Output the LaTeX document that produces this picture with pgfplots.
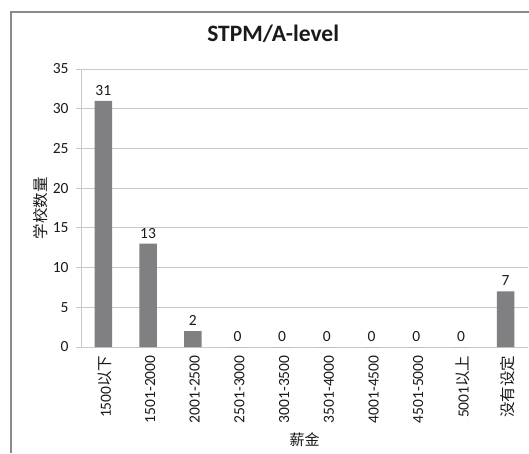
\documentclass[border=0pt]{standalone}
\usepackage{fontspec}
\setmainfont{Carlito}
\newfontfamily\cjk{Noto Sans CJK SC}[FakeStretch=1]
\usepackage{pgfplots}
\pgfplotsset{compat=1.18}
\definecolor{barc}{HTML}{808082}
\definecolor{gridc}{HTML}{C8C8C8}
\definecolor{framec}{HTML}{8A8A8A}
\definecolor{txt}{HTML}{1A1A1A}
\begin{document}
\begin{tikzpicture}[x=1pt,y=1pt]
\path[use as bounding box] (0,0) rectangle (529,453);
\draw[color=framec, line width=2.5pt] (11,0) -- (11,441) -- (530,441);
\begin{axis}[
  at={(81pt,106pt)}, anchor=south west,
  scale only axis, width=447pt, height=278pt,
  ybar, bar width=17.5pt,
  xmin=-0.5, xmax=9.5, ymin=0, ymax=35,
  xtick=data,
  xticklabels={1500{\cjk 以下},1501-2000,2001-2500,2501-3000,3001-3500,3501-4000,4001-4500,4501-5000,5001{\cjk 以上},{\cjk 没有设定}},
  ytick={0,5,...,35},
  axis x line*=bottom, axis y line*=left,
  axis line style={draw=gridc, line width=0.8pt},
  ymajorgrids, grid style={draw=gridc, line width=0.8pt},
  major x tick style={draw=none},
  major y tick style={draw=gridc, line width=0.8pt},
  tick align=outside, major tick length=5pt,
  /pgf/number format/assume math mode=true,
  tick label style={font=\fontsize{15.5}{17}\selectfont, text=txt},
  xticklabel style={rotate=90, anchor=east, yshift=-2pt},
  yticklabel style={xshift=-4pt},
  title={STPM/A-level},
  title style={at={(0.43,1)}, anchor=center, yshift=29pt, font=\fontsize{23.5}{25}\selectfont\bfseries, text=txt},
  ylabel={\cjk 学校数量},
  ylabel style={at={(axis description cs:-0.09,0.5)}, anchor=center, font=\fontsize{15.5}{17}\selectfont, text=txt},
  xlabel={\cjk 薪金},
  xlabel style={at={(axis description cs:0.5,0)}, anchor=center, yshift=-93pt, font=\fontsize{15}{17}\selectfont, text=txt},
  nodes near coords,
  every node near coord/.append style={font=\fontsize{15.5}{17}\selectfont, text=txt, yshift=2pt},
]
\addplot[fill=barc, draw=none] coordinates {(0,31) (1,13) (2,2) (3,0) (4,0) (5,0) (6,0) (7,0) (8,0) (9,7)};
\end{axis}
\end{tikzpicture}
\end{document}
